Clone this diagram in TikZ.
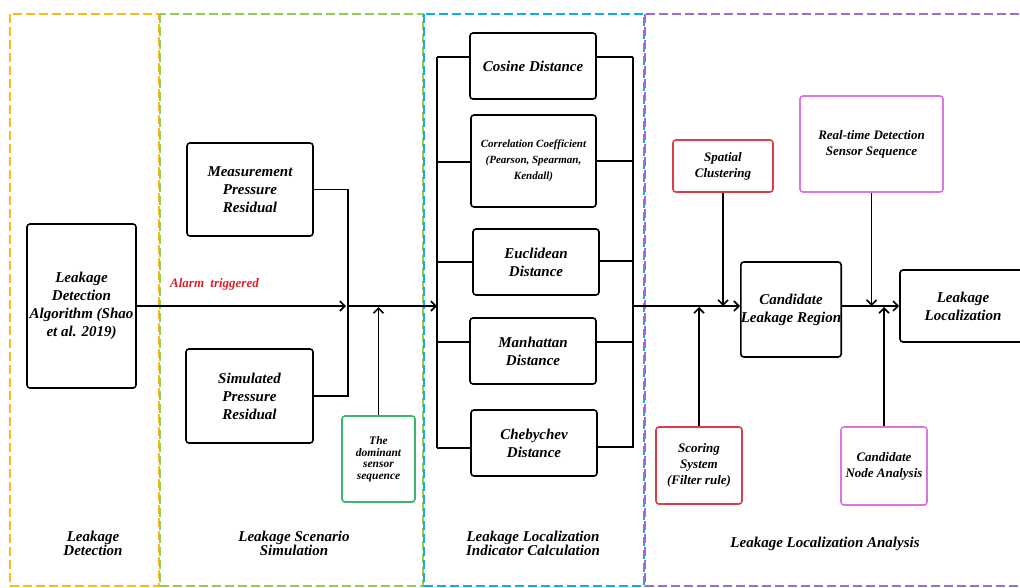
\documentclass[tikz,border=0pt]{standalone}
\usepackage{fontspec}
\setmainfont{Liberation Serif}
\usetikzlibrary{arrows.meta}
\definecolor{cyel}{RGB}{245,190,30}
\definecolor{cgrn}{RGB}{146,205,80}
\definecolor{cblu}{RGB}{20,170,235}
\definecolor{cpur}{RGB}{155,110,210}
\definecolor{cred}{RGB}{222,60,75}
\definecolor{cmag}{RGB}{220,115,225}
\definecolor{cdom}{RGB}{60,180,110}
\definecolor{calarm}{RGB}{225,30,35}
\begin{document}
\begin{tikzpicture}[x=1pt,y=-1pt,font=\bfseries\itshape,
  panel/.style={line width=2.2pt,dash pattern=on 9pt off 4pt},
  box/.style={draw,line width=1.6pt,rounded corners=3pt,align=center,inner sep=0pt},
  wire/.style={line width=1.6pt},
  arr/.style={line width=1.6pt,-{Straight Barb[length=5pt,width=10pt,line width=1.6pt]}},
  big/.style={font=\bfseries\itshape\fontsize{15}{18}\selectfont},
  mid/.style={font=\bfseries\itshape\fontsize{13}{16}\selectfont},
  lab/.style={align=center,font=\bfseries\itshape\fontsize{15}{14}\selectfont}]
\useasboundingbox (0,0) rectangle (1020,587);
\clip (0,0) rectangle (1020,587);
% panels
\draw[panel,cyel] (10,14) rectangle (159,586);
\draw[panel,cgrn] (160,14) rectangle (423,586);
\draw[panel,cblu] (424,14) rectangle (644,586);
\draw[panel,cpur] (645,14) rectangle (1040,586);
% panel labels
\node[lab] (t1) at (93,543) {Leakage\\Detection};
\node[lab] (t2) at (294,543) {Leakage Scenario\\Simulation};
\node[lab] (t3) at (533,543) {Leakage Localization\\Indicator Calculation};
\node[lab] (t4) at (825,544) {Leakage Localization Analysis};
% stage 1-2
\node[box,big,minimum width=109,minimum height=164] (lda) at (81.5,306) {Leakage\\Detection\\Algorithm (Shao\\et al. 2019)};
\node[box,big,minimum width=126,minimum height=93] (mpr) at (250,189.5) {Measurement\\Pressure\\Residual};
\node[box,big,minimum width=127,minimum height=94] (spr) at (249.5,396) {Simulated\\Pressure\\Residual};
\node[box,draw=cdom,minimum width=73,minimum height=86,font=\bfseries\itshape\fontsize{11.5}{11.5}\selectfont] (dom) at (378.5,459) {The\\dominant\\sensor\\sequence};
\node[text=calarm,font=\bfseries\itshape\fontsize{13}{16}\selectfont,anchor=base west,inner sep=0pt] (alarm) at (170,287) {Alarm\hspace{3pt} triggered};
\coordinate (j1) at (348,306);
\coordinate (bl) at (437,306);
\draw[wire] (mpr.east) -| (j1);
\draw[wire] (spr.east) -| (j1);
\draw[arr,shorten >=2pt] (lda.east |- j1) -- (j1);
\draw[arr] (j1) -- (bl);
\draw[arr,shorten >=1pt] (dom.north) -- (dom.north |- j1);
% stage 3
\node[box,big,minimum width=126,minimum height=66] (cos) at (533,66) {Cosine Distance};
\node[box,minimum width=125,minimum height=92,font=\bfseries\itshape\fontsize{11}{16}\selectfont] (cor) at (533.5,161) {Correlation Coefficient\\(Pearson, Spearman,\\Kendall)};
\node[box,big,minimum width=126,minimum height=66] (euc) at (536,262) {Euclidean\\Distance};
\node[box,big,minimum width=126,minimum height=66] (man) at (533,351) {Manhattan\\Distance};
\node[box,big,minimum width=126,minimum height=66] (che) at (534,443) {Chebychev\\Distance};
\coordinate (blt) at (437,57);
\coordinate (blb) at (437,448);
\coordinate (brt) at (633,57);
\coordinate (brb) at (633,448);
\draw[wire] (blt) -- (blb);
\draw[wire] (brt) -- (brb);
\draw[wire] (blt) -- (blt -| cos.west);
\draw[wire] (brt) -- (brt -| cos.east);
\draw[wire] (blt |- 0,162) -- (cor.west |- 0,162);
\draw[wire] (brt |- 0,161) -- (cor.east |- 0,161);
\draw[wire] (blt |- 0,262) -- (euc.west |- 0,262);
\draw[wire] (brt |- 0,261) -- (euc.east |- 0,261);
\draw[wire] (blt |- 0,342) -- (man.west |- 0,342);
\draw[wire] (brt |- 0,342) -- (man.east |- 0,342);
\draw[wire] (blb) -- (blb -| che.west);
\draw[wire] (brt |- 0,447) -- (che.east |- 0,447);
% stage 4
\node[box,big,minimum width=100,minimum height=95] (clr) at (791,309.5) {Candidate\\Leakage Region};
\node[box,big,minimum width=126,minimum height=72] (ll) at (963,306) {Leakage\\Localization};
\node[box,mid,draw=cred,minimum width=100,minimum height=52] (sc) at (723,166) {Spatial\\Clustering};
\node[box,mid,draw=cmag,minimum width=143,minimum height=96] (rt) at (871.5,144) {Real-time Detection\\Sensor Sequence};
\node[box,mid,draw=cred,minimum width=86,minimum height=77] (ss) at (699,465.5) {Scoring\\System\\(Filter rule)};
\node[box,mid,draw=cmag,minimum width=86,minimum height=78] (cn) at (884,466) {Candidate\\Node Analysis};
\coordinate (br) at (633,306);
\draw[arr] (br) -- (br -| clr.west);
\draw[arr] (sc.south) -- (sc.south |- br);
\draw[arr] (rt.south) -- (rt.south |- br);
\draw[arr,shorten >=1pt] (ss.north) -- (ss.north |- br);
\draw[arr,shorten >=1pt] (cn.north) -- (cn.north |- br);
\draw[arr] (clr.east |- ll.west) -- (ll.west);
\end{tikzpicture}
\end{document}
